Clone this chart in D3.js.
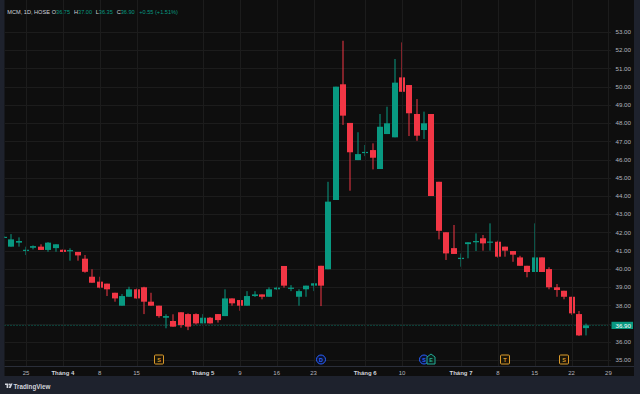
<!DOCTYPE html>
<html>
<head>
<meta charset="utf-8">
<script src="https://cdn.jsdelivr.net/npm/d3@7"></script>
<style>
    html, body { margin: 0; padding: 0; background: #1e222d; }
    svg { display: block; font-family: "Liberation Sans", Arial, sans-serif; }
</style>
</head>
<body>
<script>
// daily bars, MCM (HOSE). bar 0 is cut by the left edge
const openP = [41.72, 41.22, 41.44, 41.02, 41.16, 41.22, 41.04, 41.14, 41.05, 40.97, 40.93,
               40.56, 39.57, 39.30, 39.19, 38.69, 37.98, 38.47, 38.88, 38.99, 38.20,
               37.98, 37.32, 37.14, 37.62, 37.52, 37.52, 37.01, 37.32, 37.52, 37.41,
               38.38, 38.29, 37.98, 38.51, 38.60, 38.47, 38.88, 40.16, 38.93, 38.47,
               38.88, 39.08, 40.17, 39.98, 43.78, 50.13, 48.01, 45.97, 46.38, 46.52,
               45.48, 47.40, 47.22, 50.51, 50.09, 48.50, 47.62, 48.50, 44.78, 42.01,
               41.14, 40.54, 41.36, 41.46, 41.68, 41.45, 41.49, 41.22, 40.98, 40.63,
               40.17, 39.83, 40.63, 39.99, 38.99, 38.80, 38.47, 37.52, 36.75];
const highP = [41.80, 41.91, 41.73, 41.22, 41.29, 41.35, 41.47, 41.35, 41.07, 41.13, 40.93,
               40.76, 39.98, 39.57, 39.19, 38.69, 38.62, 39.02, 38.93, 39.02, 38.69,
               37.98, 37.51, 37.51, 37.62, 37.56, 37.56, 37.52, 37.36, 37.52, 38.88,
               38.38, 38.29, 38.78, 38.78, 38.60, 38.99, 39.02, 40.16, 39.11, 38.88,
               39.08, 39.21, 40.17, 44.78, 50.00, 52.52, 48.01, 47.50, 46.80, 46.89,
               48.50, 48.90, 51.52, 52.43, 50.09, 49.32, 48.63, 48.50, 44.78, 42.01,
               42.41, 40.85, 41.46, 41.95, 41.86, 42.50, 41.55, 41.22, 40.98, 40.72,
               40.17, 42.50, 40.63, 40.09, 39.17, 38.80, 38.47, 37.69, 37.00];
const lowP  = [41.70, 41.22, 41.22, 40.76, 41.07, 41.04, 40.94, 40.94, 40.92, 40.45, 40.45,
               39.79, 39.24, 38.93, 38.51, 38.20, 37.98, 38.47, 38.35, 37.52, 37.98,
               37.32, 36.74, 36.83, 36.77, 36.64, 36.95, 37.01, 37.00, 37.05, 37.41,
               37.98, 37.70, 37.98, 38.46, 38.33, 38.47, 38.84, 38.97, 38.78, 37.98,
               38.47, 38.78, 37.96, 39.98, 43.78, 47.90, 44.29, 45.97, 46.19, 45.46,
               45.48, 47.40, 47.22, 49.72, 47.29, 47.03, 47.13, 44.00, 41.62, 40.49,
               40.82, 40.12, 40.58, 40.98, 41.00, 41.00, 40.61, 40.67, 40.39, 40.17,
               39.54, 39.83, 39.83, 38.88, 38.47, 38.33, 37.47, 36.32, 36.35];
const closeP = [41.76, 41.62, 41.53, 41.05, 41.25, 41.04, 41.44, 41.35, 40.93, 41.03, 40.74,
                39.84, 39.24, 38.97, 38.88, 38.38, 38.51, 38.88, 38.38, 38.20, 37.98,
                37.41, 37.41, 36.83, 36.92, 36.83, 37.01, 37.32, 37.01, 37.19, 38.38,
                38.11, 37.98, 38.51, 38.60, 38.47, 38.88, 38.97, 39.08, 38.97, 38.78,
                39.08, 39.21, 39.08, 43.69, 50.00, 48.41, 46.40, 46.30, 46.42, 46.10,
                47.80, 47.99, 50.22, 49.72, 48.54, 47.31, 47.99, 44.00, 42.09, 40.85,
                40.82, 40.61, 41.46, 41.53, 41.40, 41.50, 40.67, 41.00, 40.78, 40.17,
                39.83, 40.63, 39.83, 38.99, 38.84, 38.47, 37.56, 36.35, 36.90];

// time axis labels (bar index they sit on)
const tickIdx  = [3, 8, 13, 18, 27, 32, 37, 42, 49, 54, 62, 67, 72, 77, 82];
const tickText = ["25", "Tháng 4", "8", "15", "Tháng 5", "9", "16", "23",
                  "Tháng 6", "10", "Tháng 7", "8", "15", "22", "29"];

const priceTicks = d3.range(35, 54);

// event flags under the bars
const eventIdx  = [21, 43, 57, 58, 68, 76];
const eventText = ["S", "D", "S", "E", "T", "S"];
const eventKind = ["box", "circle", "circle", "flag", "box", "box"];

const header = {symbol: "MCM, 1D, HOSE", o: "36.75", h: "37.00", l: "36.35", c: "36.90", chg: "+0.55 (+1.51%)"};

const width = 640, height = 394;
const upColor = "#089981", downColor = "#f23645";
const left = 4.5, plotRight = 611, panelRight = 634, axisTop = 366, panelBottom = 376;

const x = d3.scaleLinear().domain([0, 79]).range([3.93, 586.3]);
const y = d3.scaleLinear().domain([35, 53]).range([360, 32]);

const svg = d3.select("body").append("svg")
    .attr("width", width)
    .attr("height", height);

svg.append("rect")
    .attr("x", left).attr("y", 0)
    .attr("width", panelRight - left).attr("height", panelBottom)
    .attr("fill", "#0e0e0e");

svg.append("clipPath").attr("id", "plot")
    .append("rect")
    .attr("x", left).attr("y", 0)
    .attr("width", plotRight - left).attr("height", axisTop);

const plot = svg.append("g").attr("clip-path", "url(#plot)");

// grid
plot.selectAll(".hgrid").data(priceTicks).enter()
    .append("line")
    .attr("x1", left).attr("x2", plotRight)
    .attr("y1", d => Math.round(y(d)) + 0.5)
    .attr("y2", d => Math.round(y(d)) + 0.5)
    .attr("stroke", "#1c1c1c");

svg.selectAll(".vgrid").data(tickIdx).enter()
    .append("line")
    .attr("x1", d => Math.round(x(d)) + 0.5)
    .attr("x2", d => Math.round(x(d)) + 0.5)
    .attr("y1", 0).attr("y2", axisTop)
    .attr("stroke", "#1c1c1c");

// last price line
plot.append("line")
    .attr("x1", left).attr("x2", plotRight)
    .attr("y1", y(+header.c)).attr("y2", y(+header.c))
    .attr("stroke", upColor)
    .attr("stroke-opacity", 0.8)
    .attr("stroke-dasharray", "1,2");

// candles
const bars = d3.range(openP.length).map(i => ({
    i: i, o: openP[i], h: highP[i], l: lowP[i], c: closeP[i]
}));

const candle = plot.selectAll(".candle").data(bars).enter()
    .append("g")
    .attr("fill", d => d.c >= d.o ? upColor : downColor);

candle.append("rect")
    .attr("x", d => Math.round(x(d.i)) - 0.5)
    .attr("width", 1)
    .attr("y", d => y(d.h))
    .attr("height", d => Math.max(0.5, y(d.l) - y(d.h)));

candle.append("rect")
    .attr("x", d => Math.round(x(d.i)) - 3)
    .attr("width", 6)
    .attr("y", d => y(Math.max(d.o, d.c)))
    .attr("height", d => Math.max(1.2, Math.abs(y(d.o) - y(d.c))));

// event markers
const ev = svg.selectAll(".event").data(eventIdx).enter()
    .append("g")
    .attr("transform", d => "translate(" + Math.round(x(d)) + ",359.5)");

ev.each(function(d, k) {
    const g = d3.select(this);
    const kind = eventKind[k];
    let col;
    if (kind === "box") {
        col = "#d99a2b";
        g.append("rect")
            .attr("x", -4.5).attr("y", -4.5)
            .attr("width", 9).attr("height", 9).attr("rx", 1)
            .attr("fill", "#1a1408").attr("stroke", col);
    } else if (kind === "circle") {
        col = "#2962ff";
        g.append("circle").attr("r", 4.5)
            .attr("fill", "#0c1230").attr("stroke", col);
    } else {
        col = "#22ab94";
        g.append("path")
            .attr("d", "M-4,-2.5 L0,-5.5 L4,-2.5 L4,4.5 L-4,4.5 Z")
            .attr("fill", "#0b1f1a").attr("stroke", col);
    }
    g.append("text")
        .attr("y", 0.3)
        .attr("text-anchor", "middle")
        .attr("dominant-baseline", "central")
        .attr("font-size", 5.5)
        .attr("font-weight", "bold")
        .attr("fill", col)
        .text(eventText[k]);
});

// time axis
svg.append("line")
    .attr("x1", left).attr("x2", panelRight)
    .attr("y1", axisTop + 0.5).attr("y2", axisTop + 0.5)
    .attr("stroke", "#2a2e39");

svg.selectAll(".tlabel").data(tickIdx).enter()
    .append("text")
    .attr("x", d => x(d))
    .attr("y", 374.5)
    .attr("text-anchor", "middle")
    .attr("font-size", 6)
    .attr("font-weight", (d, k) => tickText[k].startsWith("Tháng") ? "bold" : "normal")
    .attr("fill", (d, k) => tickText[k].startsWith("Tháng") ? "#d1d4dc" : "#b2b5be")
    .text((d, k) => tickText[k]);

// price axis (the label under the last-price tag is hidden, as in TradingView)
const lastY = y(+header.c);
svg.selectAll(".plabel")
    .data(priceTicks.filter(d => Math.abs(y(d) - lastY) > 8))
    .enter()
    .append("text")
    .attr("x", 631)
    .attr("y", d => y(d))
    .attr("dy", "0.35em")
    .attr("text-anchor", "end")
    .attr("font-size", 6.2)
    .attr("fill", "#b2b5be")
    .text(d => d3.format(".2f")(d));

svg.append("rect")
    .attr("x", 611.5).attr("y", lastY - 3.6)
    .attr("width", 21.5).attr("height", 7.2)
    .attr("fill", upColor);

svg.append("text")
    .attr("x", 631)
    .attr("y", lastY)
    .attr("dy", "0.35em")
    .attr("text-anchor", "end")
    .attr("font-size", 6.2)
    .attr("fill", "#ffffff")
    .text(header.c);

// legend line at top
const legend = svg.append("g").attr("font-size", 5.6);
legend.append("text").attr("x", 7.3).attr("y", 14).attr("fill", "#d1d4dc").text(header.symbol);
[["O", header.o, 51.7], ["H", header.h, 74], ["L", header.l, 95.7], ["C", header.c, 116.7]].forEach(function(p) {
    const t = legend.append("text").attr("x", p[2]).attr("y", 14);
    t.append("tspan").attr("fill", "#d1d4dc").text(p[0]);
    t.append("tspan").attr("fill", upColor).text(p[1]);
});
legend.append("text").attr("x", 139.3).attr("y", 14).attr("fill", upColor).text(header.chg);

// TradingView mark
const logo = svg.append("g").attr("transform", "translate(5,383.5)").attr("fill", "#d1d4dc");
logo.append("path").attr("d", "M0,0 H3.2 V4.6 H1.6 V1.5 H0 Z");
logo.append("circle").attr("cx", 4.4).attr("cy", 0.9).attr("r", 0.9);
logo.append("path").attr("d", "M5.6,0 H7.6 L5.6,4.6 H3.6 Z");
svg.append("text")
    .attr("x", 13.5).attr("y", 388.5)
    .attr("font-size", 6.3)
    .attr("font-weight", "bold")
    .attr("fill", "#d1d4dc")
    .text("TradingView");
</script>
</body>
</html>
